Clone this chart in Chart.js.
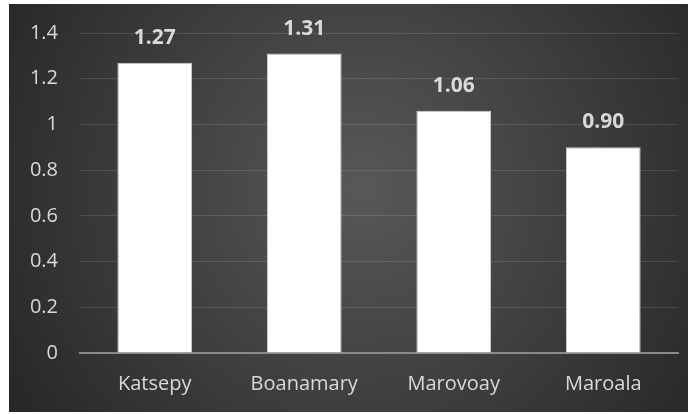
<!DOCTYPE html>
<html>
<head>
<meta charset="utf-8">
<script src="https://cdn.jsdelivr.net/npm/chart.js@4/dist/chart.umd.min.js"></script>
<style>
  body { margin: 0; background: #fff; }
  #wrap { position: absolute; left: 9px; top: 4px; width: 679px; height: 408px; }
</style>
</head>
<body>
<div id="wrap"><canvas id="myChart"></canvas></div>
<script>
const sites = ['Katsepy', 'Boanamary', 'Marovoay', 'Maroala'];
const values = [1.27, 1.31, 1.06, 0.90];
const yMax = 1.4;
const yStep = 0.2;

// dark radial backdrop like the office theme
const backdrop = {
    id: 'backdrop',
    beforeDraw(chart) {
        const c = chart.ctx, w = chart.width, h = chart.height;
        const g = c.createRadialGradient(w * 0.52, h * 0.45, 10, w * 0.52, h * 0.45, w * 0.62);
        g.addColorStop(0, '#575757');
        g.addColorStop(1, '#262626');
        c.save();
        c.fillStyle = g;
        c.fillRect(0, 0, w, h);
        c.restore();
    }
};

// value labels above each bar
const barLabels = {
    id: 'barLabels',
    afterDatasetsDraw(chart) {
        const c = chart.ctx;
        const meta = chart.getDatasetMeta(0);
        c.save();
        c.fillStyle = '#d9d9d9';
        c.font = 'bold 21px "Open Sans", sans-serif';
        c.textAlign = 'center';
        c.textBaseline = 'middle';
        meta.data.forEach((bar, i) => {
            c.fillText(values[i].toFixed(2), bar.x, bar.y - 25);
        });
        c.restore();
    }
};

const tickFont = { family: '"Open Sans", sans-serif', size: 20 };

const ctx = document.getElementById('myChart').getContext('2d');
const myChart = new Chart(ctx, {
    type: 'bar',
    data: {
        labels: sites,
        datasets: [{
            data: values,
            backgroundColor: '#ffffff',
            borderColor: '#d0d0d0',
            borderWidth: 1,
            barPercentage: 0.5,
            categoryPercentage: 1
        }]
    },
    options: {
        responsive: true,
        maintainAspectRatio: false,
        animation: false,
        layout: { padding: { top: 29, right: 10, left: 0, bottom: 0 } },
        plugins: { legend: { display: false }, tooltip: { enabled: false } },
        scales: {
            x: {
                grid: { display: false, drawTicks: false },
                border: { color: '#8a8a8a', width: 2 },
                ticks: { color: '#d9d9d9', font: tickFont, padding: 19 },
                afterFit(scale) {
                    scale.height = 59;
                    scale.paddingLeft = 0;
                    scale.paddingRight = 0;
                }
            },
            y: {
                min: 0,
                max: yMax,
                grid: { color: 'rgba(255,255,255,0.12)', drawTicks: false },
                border: { display: false },
                ticks: {
                    stepSize: yStep,
                    color: '#d9d9d9',
                    font: tickFont,
                    padding: 22,
                    callback: v => +v.toFixed(1)
                },
                afterFit(scale) {
                    scale.width = 71;
                    scale.paddingTop = 0;
                    scale.paddingBottom = 0;
                }
            }
        }
    },
    plugins: [backdrop, barLabels]
});
</script>
</body>
</html>
